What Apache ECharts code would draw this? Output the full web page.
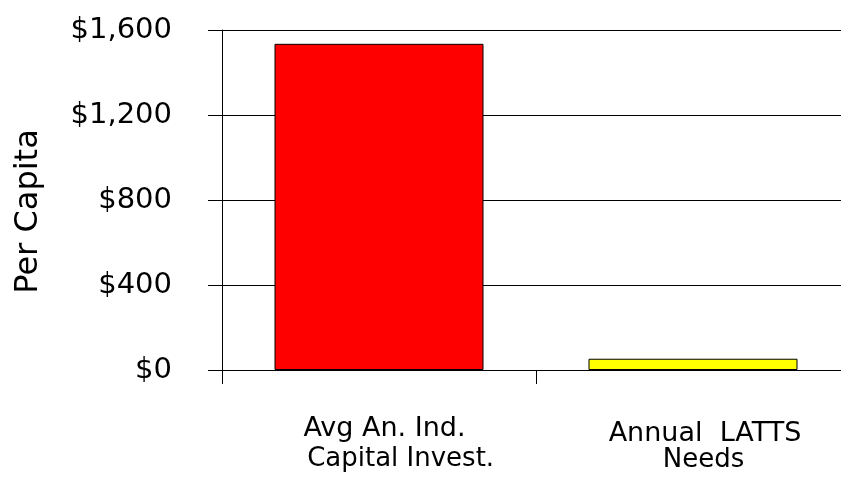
<!DOCTYPE html>
<html>
<head>
<meta charset="utf-8">
<script src="https://cdn.jsdelivr.net/npm/echarts@6/dist/echarts.min.js"></script>
<style>
  html, body { margin: 0; padding: 0; background: #fff; }
  #chart { width: 841px; height: 485px; }
</style>
</head>
<body>
<div id="chart"></div>
<script>
// Per-capita comparison: average annual industry capital investment vs. annual LATTS needs
const categories = ['Avg An. Ind.\n Capital Invest.', 'Annual  LATTS\nNeeds'];
const perCapita = [1535, 53];
const barColors = ['#ff0000', '#ffff00'];
const yTicks = { min: 0, max: 1600, interval: 400 };

const FONT = 'DejaVu Sans';

// per-line text styles for the two category labels (line spacing and nudges)
const labelLines = [
  [{ lineHeight: 30, fontSize: 27, padding: [0, 0, 0, 11] }, { lineHeight: 30, fontSize: 26, padding: [0, 0, 0, 35] }],
  [{ lineHeight: 40, fontSize: 27, padding: [0, 0, 0, 24] }, { lineHeight: 12, fontSize: 26, padding: [0, 0, 0, 21] }]
];
const rich = {};
labelLines.forEach((lines, ci) => {
  lines.forEach((st, li) => {
    rich['c' + ci + 'l' + li] = Object.assign({ fontFamily: FONT, color: '#000' }, st);
  });
});

function money(v) {
  return '$' + String(v).replace(/\B(?=(\d{3})+(?!\d))/g, ',');
}

const chart = echarts.init(document.getElementById('chart'), null, { renderer: 'canvas' });
chart.setOption({
  animation: false,
  backgroundColor: '#fff',
  grid: { left: 222, top: 30, bottom: 115, right: -9, containLabel: false, outerBoundsMode: 'none' },
  xAxis: {
    type: 'category',
    data: categories,
    boundaryGap: true,
    axisLine: { show: true, lineStyle: { color: '#000', width: 1 } },
    axisTick: { show: true, length: 14, alignWithLabel: false, lineStyle: { color: '#000', width: 1 } },
    axisLabel: {
      margin: 44,
      interval: 0,
      fontFamily: FONT,
      fontSize: 25,
      color: '#000',
      formatter: function (value, idx) {
        return value.split('\n').map((ln, li) => '{c' + idx + 'l' + li + '|' + ln + '}').join('\n');
      },
      rich: rich
    },
    splitLine: { show: false }
  },
  yAxis: {
    type: 'value',
    min: yTicks.min,
    max: yTicks.max,
    interval: yTicks.interval,
    name: 'Per Capita',
    nameLocation: 'middle',
    nameRotate: 90,
    nameGap: 177,
    nameTextStyle: { fontFamily: FONT, fontSize: 32, color: '#000', padding: [0, 23, 0, 0] },
    axisLine: { show: true, lineStyle: { color: '#000', width: 1 } },
    axisTick: { show: true, length: 14, inside: false, lineStyle: { color: '#000', width: 1 } },
    axisLabel: {
      margin: 50,
      fontFamily: FONT,
      fontSize: 29,
      color: '#000',
      formatter: money
    },
    splitLine: { show: true, lineStyle: { color: '#000', width: 1 } }
  },
  series: [{
    type: 'bar',
    barWidth: 209,
    data: perCapita.map((v, i) => ({
      value: v,
      itemStyle: { color: barColors[i], borderColor: '#000', borderWidth: 1 }
    })),
    label: { show: false }
  }]
});
</script>
</body>
</html>
